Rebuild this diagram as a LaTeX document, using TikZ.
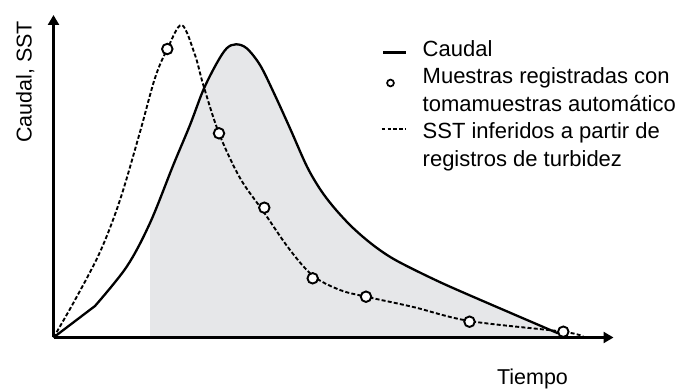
\documentclass[tikz,border=0pt]{standalone}
\usepackage{fontspec}
\setmainfont{Liberation Sans}
\usetikzlibrary{arrows.meta}
\definecolor{areagray}{RGB}{230,231,233}

\begin{document}
\begin{tikzpicture}[x=1pt,y=-1pt,
  axis/.style={line width=2.4pt,-{Triangle[length=10pt,width=11pt]}},
  flow/.style={line width=2.3pt,line join=round},
  sst/.style={line width=1.9pt,dash pattern=on 4pt off 2.2pt},
  sample/.style={circle,draw,fill=white,line width=1.9pt,minimum size=10.5pt,inner sep=0pt},
  txt/.style={font=\fontsize{21.5}{28.4}\selectfont,inner sep=0pt},
  keytxt/.style={font=\fontsize{22}{28.4}\selectfont,inner sep=0pt,anchor=base west,align=left}]
\useasboundingbox (0,0) rectangle (686,390);

\coordinate (O) at (53.5,337.5);
\coordinate (ytip) at (53.5,15);
\coordinate (xtip) at (613.5,337.5);

% shaded area under the flow
\begin{scope}
\clip (150,0) rectangle (600,337.5);
\fill[areagray] (O) -- plot[smooth,tension=0.55] coordinates {(95,306) (126.7,266.7) (150,223) (173.3,165) (190,125) (203.3,90) (216.7,63.3) (226.7,48.3) (236,44.3) (246.7,48.3) (260,65) (273.3,91.7) (290,128.3) (306.7,166) (320,189) (333.3,206.7) (350,225) (366.7,240) (383.3,252.5) (400,262.5) (433.3,279) (466.7,294) (558,333.3)} -- (558,337.5) -- cycle;
\end{scope}

\draw[axis] (O) -- (ytip);
\draw[axis] (O) -- (xtip);

% flow
\draw[flow] (O) -- plot[smooth,tension=0.55] coordinates {(95,306) (126.7,266.7) (150,223) (173.3,165) (190,125) (203.3,90) (216.7,63.3) (226.7,48.3) (236,44.3) (246.7,48.3) (260,65) (273.3,91.7) (290,128.3) (306.7,166) (320,189) (333.3,206.7) (350,225) (366.7,240) (383.3,252.5) (400,262.5) (433.3,279) (466.7,294) (558,333.3)};
% SST from turbidity
\draw[sst] plot[smooth,tension=0.55] coordinates {(53.5,337.5) (75,300) (100,252) (120,200) (140,132) (155,78) (167.3,49) (181.7,25) (195,55) (203.3,85) (219,133.3) (240,178) (263,211) (290,250) (313.3,276) (340,290) (366,296.7) (413.3,307) (469.5,321) (563,331.7) (583.3,336.7)};

\node[sample] (m1) at (167.3,49) {};
\node[sample] (m2) at (219,133.3) {};
\node[sample] (m3) at (264.3,207.7) {};
\node[sample] (m4) at (312.7,278.3) {};
\node[sample] (m5) at (366,296.7) {};
\node[sample] (m6) at (469.5,321.7) {};
\node[sample] (m7) at (563.3,331.7) {};

% legend
\coordinate (k1a) at (383,52.5);
\coordinate (k1b) at (406,52.5);
\draw[flow] (k1a) -- (k1b);
\node[circle,draw,line width=1.7pt,minimum size=6.8pt,inner sep=0pt] (k2) at (390.5,83) {};
\coordinate (k3a) at (381.7,129);
\coordinate (k3b) at (405,129);
\draw[line width=1.3pt,dash pattern=on 3.5pt off 2.3pt] (k3a) -- (k3b);

\node[keytxt] (l1) at (422.5,56.7) {Caudal};
\node[keytxt] (l2) at (422.5,111.7) {Muestras registradas con\\tomamuestras automático};
\node[keytxt] (l3) at (422.5,166.7) {SST inferidos a partir de\\registros de turbidez};

\node[txt,anchor=base] (tiempo) at (532.5,384) {Tiempo};
\node[txt,anchor=base,rotate=90] (caudal) at (31.5,82) {Caudal, SST};
\end{tikzpicture}
\end{document}
